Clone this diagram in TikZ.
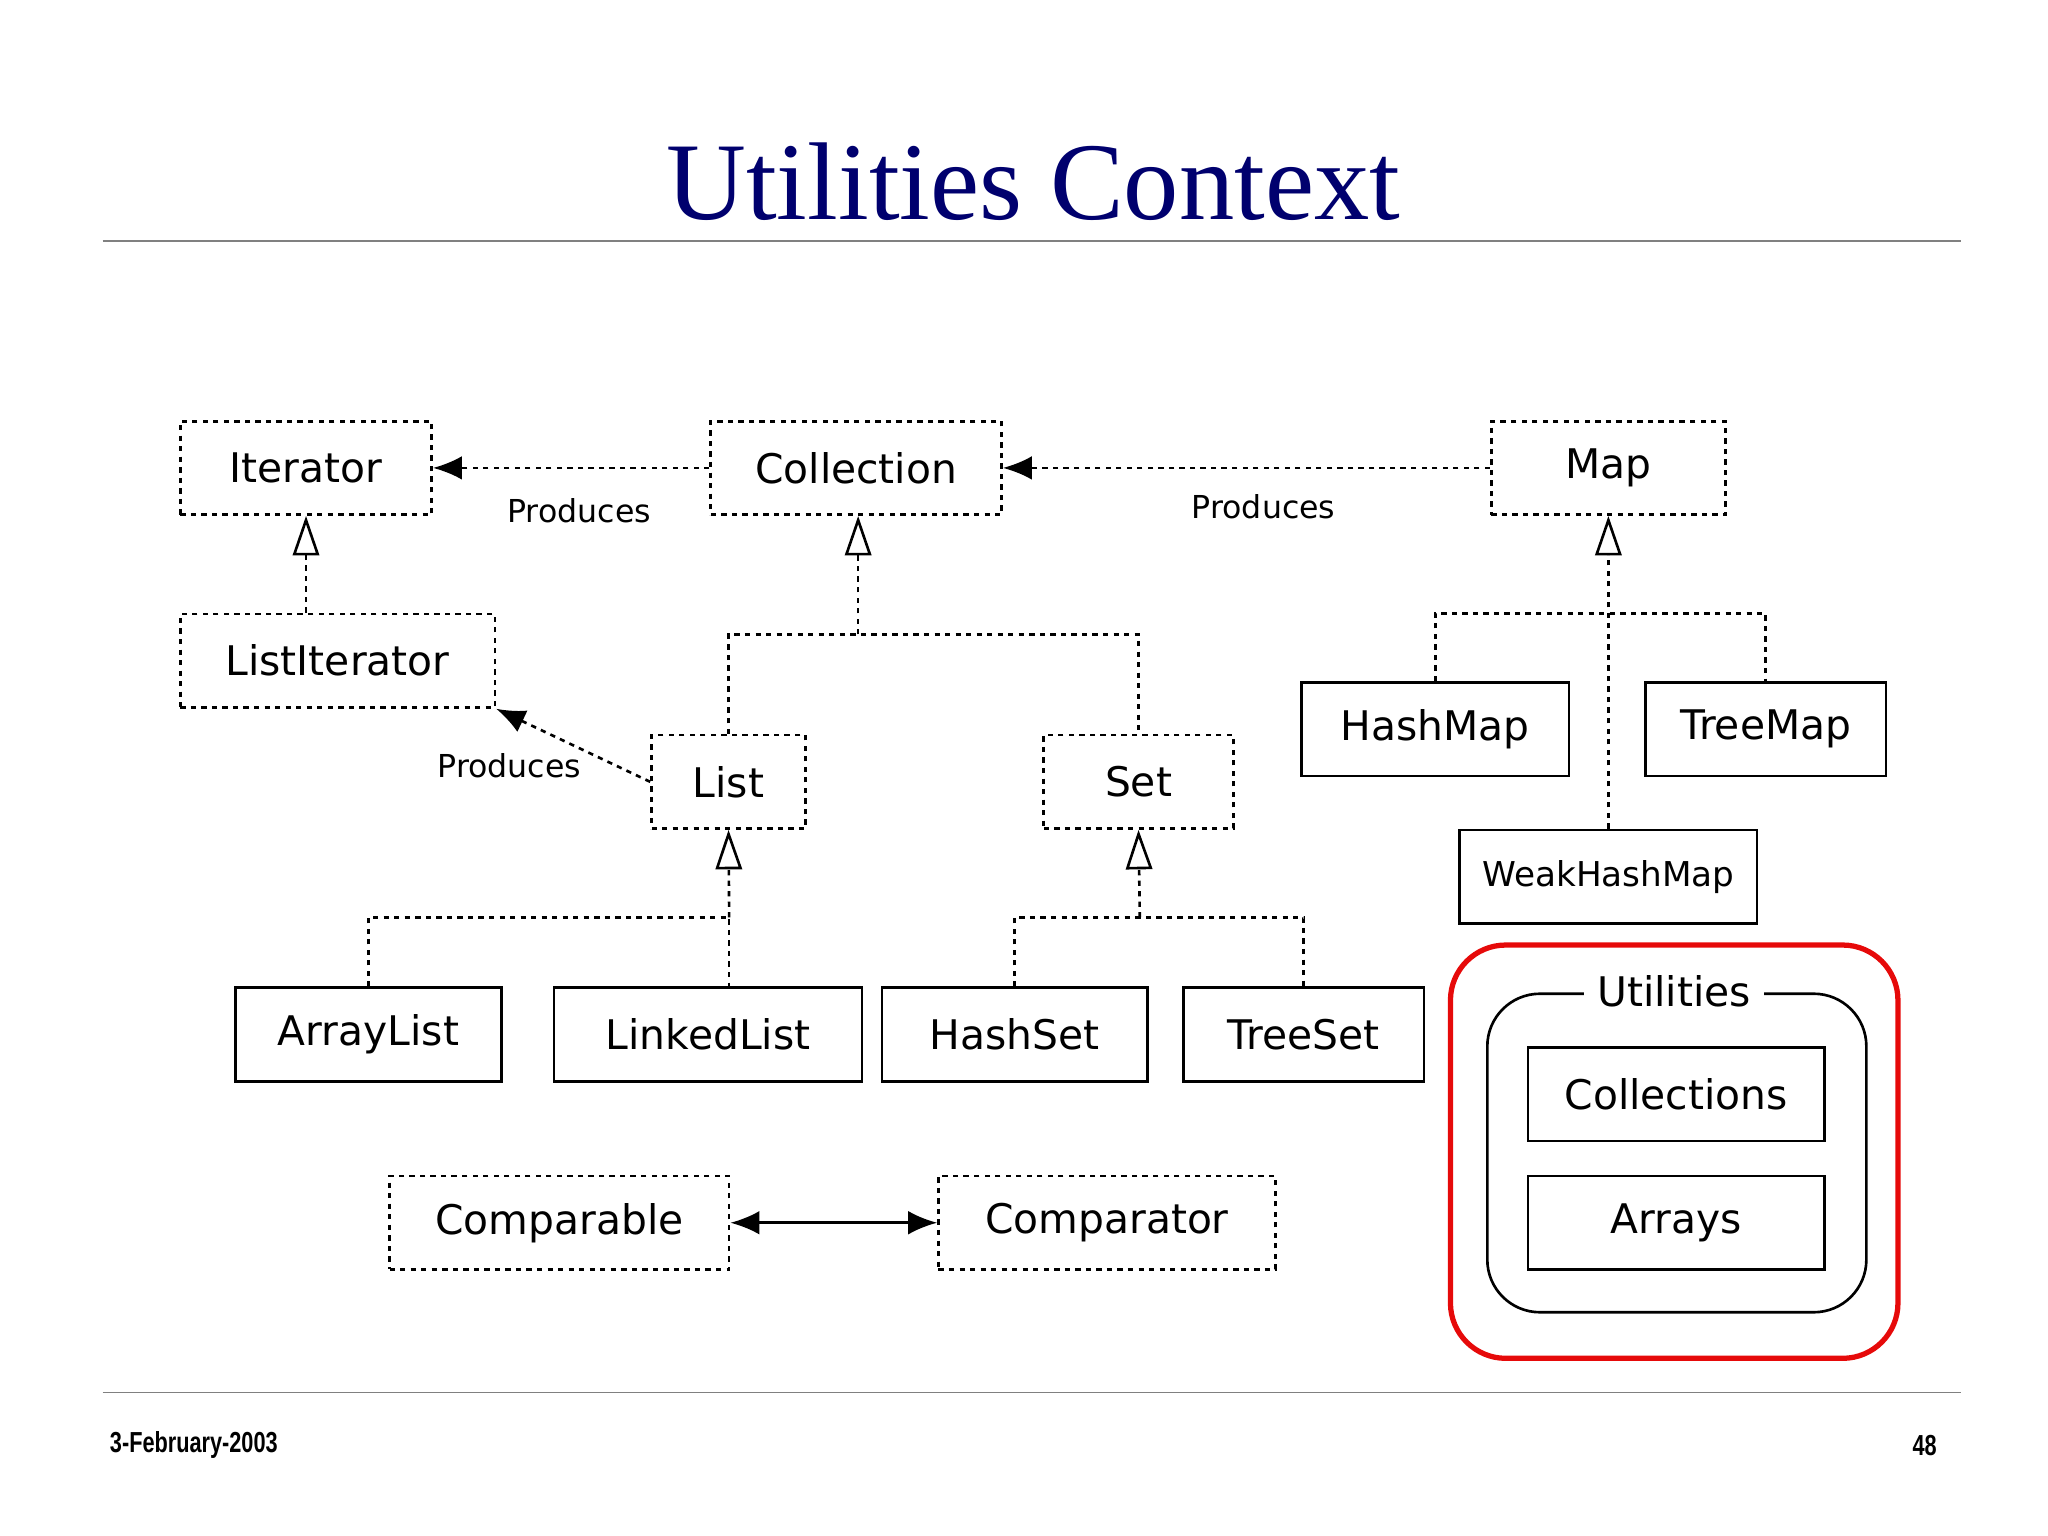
\documentclass[tikz,border=0pt]{standalone}
\usepackage{fontspec}
\setmainfont{Liberation Serif}
\newfontfamily\boxfont{DejaVu Sans}
\newfontfamily\footfont{Liberation Sans}[FakeStretch=0.75]
\usetikzlibrary{arrows.meta}
\definecolor{titleblue}{RGB}{0,0,110}
\definecolor{slidered}{RGB}{230,10,10}
\tikzset{
  cls/.style={draw, line width=2pt, minimum height=71pt, inner sep=0pt, font=\boxfont\fontsize{31}{31}\selectfont},
  iface/.style={cls, dash pattern=on 4pt off 4pt},
  realize/.style={line width=2pt, dash pattern=on 4pt off 4pt, -{Triangle[open, length=30pt, width=20pt, line width=2pt]}},
  branch/.style={line width=2pt, dash pattern=on 4pt off 4pt},
  produces/.style={line width=2pt, dash pattern=on 4pt off 4pt, -{Latex[length=22pt, width=18pt]}},
  lbl/.style={font=\boxfont\fontsize{24}{24}\selectfont, inner sep=0pt}
}
\begin{document}
\begin{tikzpicture}[x=1pt,y=-1pt]
\useasboundingbox (0,0) rectangle (1556,1167);
% title and rules
\node[font=\fontsize{84}{84}\selectfont, text=titleblue] (title) at (785,138) {Utilities Context};
\draw[gray, line width=1.2pt] (78,183) -- (1490,183);
\draw[gray, line width=1.2pt] (78,1058) -- (1490,1058);
\node[font=\footfont\bfseries\fontsize{22}{22}\selectfont, anchor=west] (date) at (80,1098) {3-February-2003};
\node[font=\footfont\bfseries\fontsize{22}{22}\selectfont, anchor=east] (page) at (1475,1098) {48};
% interfaces
\node[iface, minimum width=191pt] (Iterator) at (232.5,355.5) {Iterator};
\node[iface, minimum width=221pt] (Collection) at (650.5,355.5) {Collection};
\node[iface, minimum width=178pt] (Map) at (1222,355.5) {Map};
\node[iface, minimum width=239pt] (ListIterator) at (256.5,502) {ListIterator};
\node[iface, minimum width=117pt] (List) at (553.5,594) {List};
\node[iface, minimum width=144pt] (Set) at (865,594) {Set};
\node[iface, minimum width=258pt] (Comparable) at (425,929) {Comparable};
\node[iface, minimum width=256pt] (Comparator) at (841,929) {Comparator};
% classes
\node[cls, minimum width=203pt] (HashMap) at (1090.5,554) {HashMap};
\node[cls, minimum width=183pt] (TreeMap) at (1341.5,554) {TreeMap};
\node[cls, minimum width=226pt, font=\boxfont\fontsize{26}{26}\selectfont] (WeakHashMap) at (1222,666) {WeakHashMap};
\node[cls, minimum width=202pt] (ArrayList) at (280,786) {ArrayList};
\node[cls, minimum width=234pt] (LinkedList) at (538,786) {LinkedList};
\node[cls, minimum width=202pt] (HashSet) at (771,786) {HashSet};
\node[cls, minimum width=183pt] (TreeSet) at (990.5,786) {TreeSet};
% utilities package
\draw[slidered, line width=4pt, rounded corners=42pt] (1102,718) rectangle (1442,1032);
\draw[line width=2pt, rounded corners=40pt] (1130,755) rectangle (1418,997);
\node[lbl, fill=white, inner xsep=10pt, font=\boxfont\fontsize{31}{31}\selectfont] (Utilities) at (1272,753) {Utilities};
\node[cls, minimum width=225pt] (Collections) at (1273.5,831.5) {Collections};
\node[cls, minimum width=225pt] (Arrays) at (1273.5,929) {Arrays};
% produces
\draw[produces] (Collection.west) -- (Iterator.east);
\node[lbl] (prod1) at (440,388) {Produces};
\draw[produces] (Map.west) -- (Collection.east);
\node[lbl] (prod2) at (960,385) {Produces};
\draw[produces] (List.west) -- (ListIterator.south east);
\node[lbl] (prod3) at (387,582) {Produces};
% realization
\draw[realize] (Iterator.south |- ListIterator.north) -- (Iterator.south);
\coordinate (colJ) at (652,482);
\draw[branch] (List.north) |- (colJ) -| (Set.north);
\draw[realize] (colJ) -- (colJ |- Collection.south);
\coordinate (mapJ) at (1221,466);
\draw[branch] (HashMap.north) |- (mapJ) -| (TreeMap.north);
\draw[realize] (WeakHashMap.north) -- (Map.south);
\coordinate (listJ) at (554,697);
\draw[branch] (ArrayList.north) |- (listJ) -- (listJ |- LinkedList.north);
\draw[realize] (listJ) -- (List.south);
\coordinate (setJ) at (866,697);
\draw[branch] (HashSet.north) |- (setJ) -| (TreeSet.north);
\draw[realize] (setJ) -- (Set.south);
% comparable / comparator
\draw[line width=2pt, {Latex[length=22pt, width=18pt]}-{Latex[length=22pt, width=18pt]}] (Comparable.east) -- (Comparator.west);
\end{tikzpicture}
\end{document}
